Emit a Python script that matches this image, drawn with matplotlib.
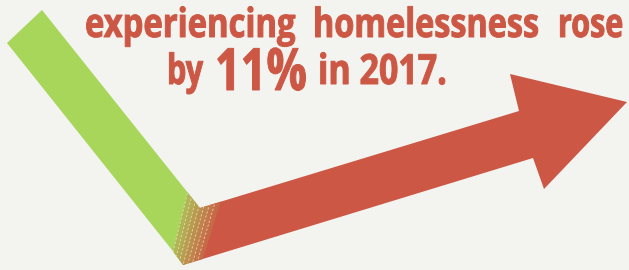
import numpy as np
import matplotlib
matplotlib.use("Agg")
import matplotlib.pyplot as plt
from matplotlib.patches import Polygon
from matplotlib.patheffects import AbstractPathEffect
from matplotlib.transforms import Affine2D, Bbox
from matplotlib.text import Text

# colours
BG = "#f3f3ef"
GREEN = "#a7d65b"
RED = "#cc5744"

# shape outline, in pixel coordinates (y downward)
green_pts = [(7, 43), (42, 10), (200, 208), (183, 265), (172, 250)]
red_pts = [(200, 208), (519, 111), (510, 74), (627, 102), (544, 189),
           (533, 158), (183, 265)]
# blend band: left edge (green side) and right edge (red side)
blend_left = [(187, 195), (173, 252)]
blend_right = [(220, 203), (203, 258)]
n_strips = 7

# text pieces
line1_words = ["experiencing", "homelessness", "rose"]
line1_x = [85, 313, 558]
line1_w = [210, 225, 65]
line1_y = 37
line2_words = ["by", "11%", "in 2017."]
line2_x = [167, 215, 318]
line2_y = [84, 90, 84]
line2_w = [36, 92, 129]
line2_size = [30, 42, 30]

W, H = 629, 270
fig = plt.figure(figsize=(W / 100, H / 100), dpi=100, facecolor=BG)
ax = fig.add_axes([0, 0, 1, 1])
ax.set_xlim(0, W)
ax.set_ylim(H, 0)
ax.set_facecolor(BG)
ax.axis("off")

ax.add_patch(Polygon(green_pts, closed=True, fc=GREEN, ec="none", zorder=2))
ax.add_patch(Polygon(red_pts, closed=True, fc=RED, ec="none", zorder=2))

# clip region = whole V shape
outline = Polygon(green_pts[:3] + red_pts[1:] + green_pts[4:], closed=True,
                  fc="none", ec="none", transform=ax.transData)
ax.add_patch(outline)

g = np.array(matplotlib.colors.to_rgb(GREEN))
r = np.array(matplotlib.colors.to_rgb(RED))
L0, L1 = np.array(blend_left, float), np.array(blend_right, float)


def ext(seg):
    # stretch an edge past the shape, the clip trims it
    d = seg[1] - seg[0]
    return np.array([seg[0] - 0.6 * d, seg[1] + 0.6 * d])


L0, L1 = ext(L0), ext(L1)
ts = np.linspace(0, 1, n_strips + 1)
cols = np.linspace(0.25, 0.85, n_strips)
for i in range(n_strips):
    a = L0 + (L1 - L0) * ts[i]
    b = L0 + (L1 - L0) * ts[i + 1]
    c = g + (r - g) * cols[i]
    p = Polygon([a[0], b[0], b[1], a[1]], closed=True, fc=c, ec=c, lw=0.3,
                zorder=3)
    ax.add_patch(p)
    p.set_clip_path(outline)
for i in range(n_strips):
    a = L0 + (L1 - L0) * ts[i]
    ln, = ax.plot(a[:, 0], a[:, 1], color="#f0e6c0", lw=0.6, alpha=0.8,
                  dashes=(3, 2), zorder=4)
    ln.set_clip_path(outline)


class Squeeze(AbstractPathEffect):
    """narrow (and slightly embolden) the glyphs around x0, display px"""
    def __init__(self, sx, x0, stroke=0.7):
        super().__init__()
        self.sx, self.x0, self.stroke = sx, x0, stroke

    def draw_path(self, renderer, gc, tpath, affine, rgbFace=None):
        sq = Affine2D().translate(-self.x0, 0).scale(self.sx, 1).translate(self.x0, 0)
        gc0 = renderer.new_gc()
        gc0.copy_properties(gc)
        gc0.set_linewidth(self.stroke)
        gc0.set_foreground(rgbFace)
        gc0.set_joinstyle("round")
        renderer.draw_path(gc0, tpath, affine + sq, rgbFace)
        gc0.restore()


class NarrowText(Text):
    # window extent follows the squeezed glyphs
    sx = 1.0

    def get_window_extent(self, renderer=None, dpi=None):
        bb = super().get_window_extent(renderer, dpi)
        return Bbox.from_extents(bb.x0, bb.y0, bb.x0 + bb.width * self.sx, bb.y1)


FONT = ["Open Sans", "DejaVu Sans"]
fig.canvas.draw()
renderer = fig.canvas.get_renderer()


def put(s, x, y, width, size):
    t = NarrowText(x, y, s, ha="left", va="baseline", fontsize=size,
                   fontweight="bold", family=FONT, color=RED, zorder=5)
    ax._add_text(t)
    w = t.get_window_extent(renderer).width
    x0 = ax.transData.transform((x, y))[0]
    t.sx = width / w
    t.set_path_effects([Squeeze(t.sx, x0)])
    return t


for s, x, w in zip(line1_words, line1_x, line1_w):
    put(s, x, line1_y, w, 29)
for s, x, y, w, fs in zip(line2_words, line2_x, line2_y, line2_w, line2_size):
    put(s, x, y, w, fs)

fig.savefig("out.png", dpi=100, facecolor=BG)
